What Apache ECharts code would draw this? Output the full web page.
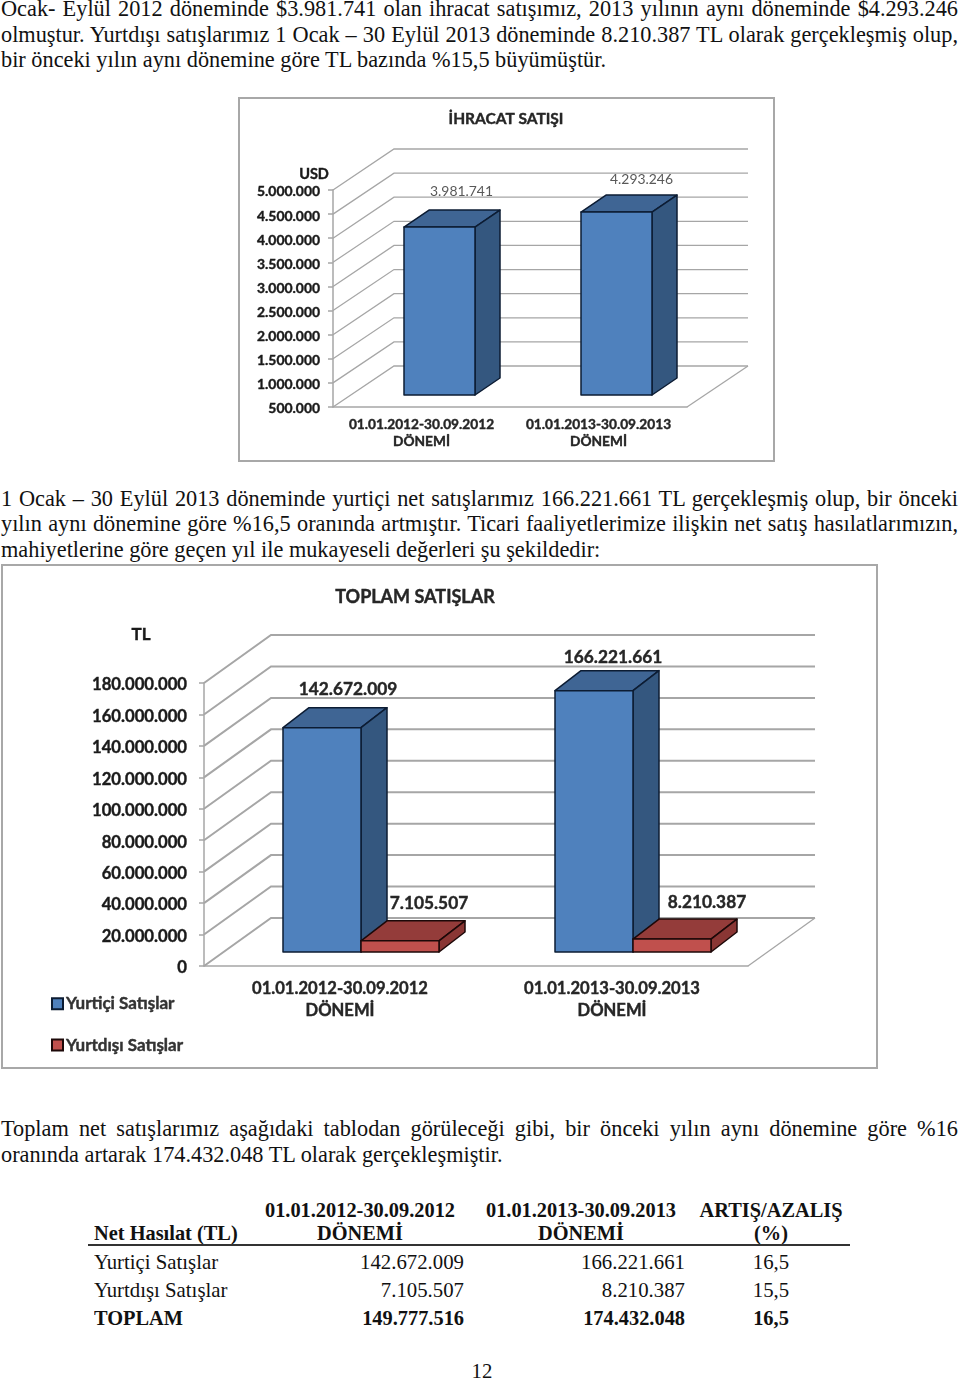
<!DOCTYPE html>
<html>
<head>
<meta charset="utf-8">
<script src="https://cdn.jsdelivr.net/npm/echarts@6/dist/echarts.min.js"></script>
<style>
    html, body { margin: 0; padding: 0; background: #fff; }
    body { position: relative; width: 960px; height: 1378px; overflow: hidden;
           font-family: "Liberation Serif", serif; color: #111; }
    .line { position: absolute; left: 1px; width: 957px; font-size: 22.3px; line-height: 26px; white-space: nowrap; }
    .just { text-align: justify; text-align-last: justify; }
    .chart { position: absolute; outline: 2px solid #a8a8a8; outline-offset: -2px; }
    .cell { position: absolute; font-size: 21px; line-height: 26px; white-space: nowrap; transform: scaleX(.99); }
    .b { font-weight: bold; transform: scaleX(.97); }
    .c { transform-origin: center; text-align: center; }
    .r { transform-origin: right; text-align: right; }
    .l { transform-origin: left; }
    #rule { position: absolute; left: 88px; top: 1244px; width: 762px; height: 2px; background: #333; }
</style>
</head>
<body>
<div class="line just" style="top:-4px">Ocak- Eylül 2012 döneminde $3.981.741 olan ihracat satışımız, 2013 yılının aynı döneminde $4.293.246</div>
<div class="line just" style="top:22px">olmuştur. Yurtdışı satışlarımız 1 Ocak – 30 Eylül 2013 döneminde 8.210.387 TL olarak gerçekleşmiş olup,</div>
<div class="line" style="top:47px">bir önceki yılın aynı dönemine göre TL bazında %15,5 büyümüştür.</div>

<div id="ihracat" class="chart" style="left:238px;top:97px;width:537px;height:365px"></div>

<div class="line just" style="top:486px">1 Ocak – 30 Eylül 2013 döneminde yurtiçi net satışlarımız 166.221.661 TL gerçekleşmiş olup, bir önceki</div>
<div class="line just" style="top:511px">yılın aynı dönemine göre %16,5 oranında artmıştır. Ticari faaliyetlerimize ilişkin net satış hasılatlarımızın,</div>
<div class="line" style="top:537px">mahiyetlerine göre geçen yıl ile mukayeseli değerleri şu şekildedir:</div>

<div id="toplam" class="chart" style="left:1px;top:564px;width:877px;height:505px"></div>

<div class="line just" style="top:1116px">Toplam net satışlarımız aşağıdaki tablodan görüleceği gibi, bir önceki yılın aynı dönemine göre %16</div>
<div class="line" style="top:1142px">oranında artarak 174.432.048 TL olarak gerçekleşmiştir.</div>

<div class="cell b c" style="left:240px;width:240px;top:1197px">01.01.2012-30.09.2012</div>
<div class="cell b c" style="left:240px;width:240px;top:1220px">DÖNEMİ</div>
<div class="cell b c" style="left:461px;width:240px;top:1197px">01.01.2013-30.09.2013</div>
<div class="cell b c" style="left:461px;width:240px;top:1220px">DÖNEMİ</div>
<div class="cell b c" style="left:671px;width:200px;top:1197px">ARTIŞ/AZALIŞ</div>
<div class="cell b c" style="left:671px;width:200px;top:1220px">(%)</div>
<div class="cell b l" style="left:94px;top:1220px">Net Hasılat (TL)</div>
<div id="rule"></div>

<div class="cell l" style="left:94px;top:1249px">Yurtiçi Satışlar</div>
<div class="cell r" style="left:264px;width:200px;top:1249px">142.672.009</div>
<div class="cell r" style="left:485px;width:200px;top:1249px">166.221.661</div>
<div class="cell c" style="left:671px;width:200px;top:1249px">16,5</div>

<div class="cell l" style="left:94px;top:1277px">Yurtdışı Satışlar</div>
<div class="cell r" style="left:264px;width:200px;top:1277px">7.105.507</div>
<div class="cell r" style="left:485px;width:200px;top:1277px">8.210.387</div>
<div class="cell c" style="left:671px;width:200px;top:1277px">15,5</div>

<div class="cell b l" style="left:94px;top:1305px">TOPLAM</div>
<div class="cell b r" style="left:264px;width:200px;top:1305px">149.777.516</div>
<div class="cell b r" style="left:485px;width:200px;top:1305px">174.432.048</div>
<div class="cell b c" style="left:671px;width:200px;top:1305px">16,5</div>

<div class="cell c" style="left:382px;width:200px;top:1358px">12</div>

<script type="text/javascript">
    const periods = ['01.01.2012-30.09.2012\nDÖNEMİ', '01.01.2013-30.09.2013\nDÖNEMİ'];
    const ihracatUsd = [3981741, 4293246];
    const usdTicks = [500000, 1000000, 1500000, 2000000, 2500000, 3000000, 3500000, 4000000, 4500000, 5000000];
    const yurticiTl = [142672009, 166221661];
    const yurtdisiTl = [7105507, 8210387];
    const tlTicks = [0, 20000000, 40000000, 60000000, 80000000, 100000000, 120000000, 140000000, 160000000, 180000000];

    const FONT = 'Lato, "Noto Sans", sans-serif';
    const BLUE = { front: '#4f81bd', top: '#3f6594', side: '#34577f', line: '#0c1c33' };
    const RED = { front: '#c0504d', top: '#943c3a', side: '#8a3634', line: '#1c0808' };
    // referanstaki yazilar daha kalin gorunuyor
    const HEAVY = { fontFamily: FONT, fontWeight: 'bold', textBorderColor: '#1a1a1a', textBorderWidth: 0.4 };

    function dotted(n) {
        return String(n).replace(/\B(?=(\d{3})+$)/g, '.');
    }

    // arka duvar ve yan duvar cizgileri
    function wallSeries(ticks, cfg) {
        return {
            type: 'custom',
            silent: true,
            data: ticks.map(function (t) { return [0, t]; }),
            renderItem: function (params, api) {
                const p = api.coord([0, api.value(1)]);
                const band = api.size([1, 0])[0];
                const x0 = p[0] - band / 2;
                const x1 = x0 + band * 2;
                const style = { stroke: '#a6a6a6', lineWidth: cfg.wallWidth, fill: null };
                const children = [
                    { type: 'polyline', shape: { points: [[x0, p[1]], [x0 + cfg.depth[0], p[1] - cfg.depth[1]], [x1 + cfg.depth[0], p[1] - cfg.depth[1]]] }, style: style }
                ];
                if (api.value(1) === ticks[0]) {
                    children.push({ type: 'line', shape: { x1: x1, y1: p[1], x2: x1 + cfg.depth[0], y2: p[1] - cfg.depth[1] }, style: { stroke: '#a6a6a6', lineWidth: 1.3 } });
                }
                return { type: 'group', children: children };
            }
        };
    }

    function barSeries(name, values, colors, slot, slots, cfg, labels) {
        return {
            type: 'custom',
            name: name,
            itemStyle: { color: colors.front, borderColor: colors.line, borderWidth: 1 },
            data: values.map(function (v, i) { return [i, v]; }),
            renderItem: function (params, api) {
                const i = api.value(0);
                const p = api.coord([i, api.value(1)]);
                const floor = api.coord([i, cfg.min]);
                const left = p[0] + cfg.base[0] + (slot - slots / 2) * cfg.barW;
                const right = left + cfg.barW;
                const top = p[1] - cfg.base[1];
                const bottom = floor[1] - cfg.base[1];
                const dx = cfg.side[0];
                const dy = cfg.side[1];
                const edge = { stroke: colors.line, lineWidth: 1.5, lineJoin: 'round' };
                return {
                    type: 'group',
                    children: [
                        { type: 'polygon', shape: { points: [[left, top], [left + dx, top - dy], [right + dx, top - dy], [right, top]] }, style: Object.assign({ fill: colors.top }, edge) },
                        { type: 'polygon', shape: { points: [[right, top], [right + dx, top - dy], [right + dx, bottom - dy], [right, bottom]] }, style: Object.assign({ fill: colors.side }, edge) },
                        { type: 'rect', shape: { x: left, y: top, width: cfg.barW, height: bottom - top }, style: Object.assign({ fill: colors.front }, edge) },
                        {
                            type: 'text',
                            x: (left + right) / 2 + labels[i][0],
                            y: top + labels[i][1],
                            style: { text: dotted(api.value(1)), fill: cfg.labelColor, font: cfg.labelFont, align: 'center', verticalAlign: 'middle', stroke: cfg.labelStroke, lineWidth: 0.4 }
                        }
                    ]
                };
            }
        };
    }

    function baseAxes(ticks, cfg) {
        return {
            xAxis: {
                type: 'category',
                data: periods,
                axisLine: { lineStyle: { color: '#a6a6a6', width: 1.5 } },
                axisTick: { length: 4, lineStyle: { color: '#a6a6a6', width: 1.5 } },
                axisLabel: Object.assign({ interval: 0, margin: cfg.xMargin, lineHeight: cfg.xLine, fontSize: cfg.fontSize, color: '#262626' }, HEAVY)
            },
            yAxis: {
                type: 'value',
                min: ticks[0],
                max: ticks[ticks.length - 1],
                interval: ticks[1] - ticks[0],
                splitLine: { show: false },
                axisLine: { show: true, lineStyle: { color: '#a6a6a6', width: 1.5 } },
                axisTick: { show: true, length: 5, lineStyle: { color: '#a6a6a6', width: 1.5 } },
                axisLabel: {
                    margin: cfg.yMargin,
                    formatter: function (v) { return '{t|' + dotted(v) + '}'; },
                    rich: { t: Object.assign({ padding: [4, 0, 0, 0], fontSize: cfg.yFontSize, color: '#1a1a1a' }, HEAVY) }
                }
            }
        };
    }

    const ihracatCfg = {
        min: usdTicks[0], depth: [61, 41], base: [18, 12], side: [25, 17], barW: 71, wallWidth: 1.3,
        xMargin: 9, xLine: 17, fontSize: 13.7, yFontSize: 13.9, yMargin: 13,
        labelColor: '#595959', labelFont: '13.9px ' + FONT, labelStroke: null
    };
    const toplamCfg = {
        min: tlTicks[0], depth: [67, 48], base: [21, 14], side: [26, 20], barW: 78, wallWidth: 2,
        xMargin: 12, xLine: 22, fontSize: 16.6, yFontSize: 16.7, yMargin: 17,
        labelColor: '#262626', labelFont: 'bold 17.3px ' + FONT, labelStroke: '#262626'
    };

    const ihracatChart = echarts.init(document.getElementById('ihracat'), null, { renderer: 'canvas' });
    const ihracatAxes = baseAxes(usdTicks, ihracatCfg);
    ihracatChart.setOption({
        animation: false,
        title: [
            { text: 'İHRACAT SATIŞI', left: 263, top: 9, textAlign: 'center', textStyle: Object.assign({ fontSize: 15.5, color: '#262626' }, HEAVY) },
            { text: 'USD', left: 71, top: 65, textAlign: 'center', textStyle: Object.assign({ fontSize: 14.5, color: '#1a1a1a' }, HEAVY) }
        ],
        grid: { left: 95, top: 93, width: 354, height: 217 },
        xAxis: ihracatAxes.xAxis,
        yAxis: ihracatAxes.yAxis,
        series: [
            wallSeries(usdTicks, ihracatCfg),
            barSeries('İhracat', ihracatUsd, BLUE, 0, 1, ihracatCfg, [[22, -36], [25, -33]])
        ]
    });

    const toplamChart = echarts.init(document.getElementById('toplam'), null, { renderer: 'canvas' });
    const toplamAxes = baseAxes(tlTicks, toplamCfg);
    toplamChart.setOption({
        animation: false,
        title: [
            { text: 'TOPLAM SATIŞLAR', left: 409, top: 19, textAlign: 'center', textStyle: Object.assign({ fontSize: 18, color: '#262626' }, HEAVY) },
            { text: 'TL', left: 135, top: 57, textAlign: 'center', textStyle: Object.assign({ fontSize: 17, color: '#1a1a1a' }, HEAVY) }
        ],
        legend: {
            orient: 'vertical',
            left: 45,
            top: 426,
            itemWidth: 11,
            itemHeight: 11,
            itemGap: 24,
            data: [
                { name: 'Yurtiçi Satışlar', icon: 'rect' },
                { name: 'Yurtdışı Satışlar', icon: 'rect' }
            ],
            textStyle: Object.assign({ fontSize: 17, color: '#333', padding: [0, 0, 0, -2] }, HEAVY)
        },
        grid: { left: 203, top: 119, width: 544, height: 283 },
        xAxis: toplamAxes.xAxis,
        yAxis: toplamAxes.yAxis,
        series: [
            wallSeries(tlTicks, toplamCfg),
            barSeries('Yurtiçi Satışlar', yurticiTl, BLUE, 0, 2, toplamCfg, [[26, -38], [19, -33]]),
            barSeries('Yurtdışı Satışlar', yurtdisiTl, RED, 1, 2, toplamCfg, [[29, -37], [35, -37]])
        ]
    });

    window.addEventListener('resize', ihracatChart.resize);
    window.addEventListener('resize', toplamChart.resize);
</script>
</body>
</html>
